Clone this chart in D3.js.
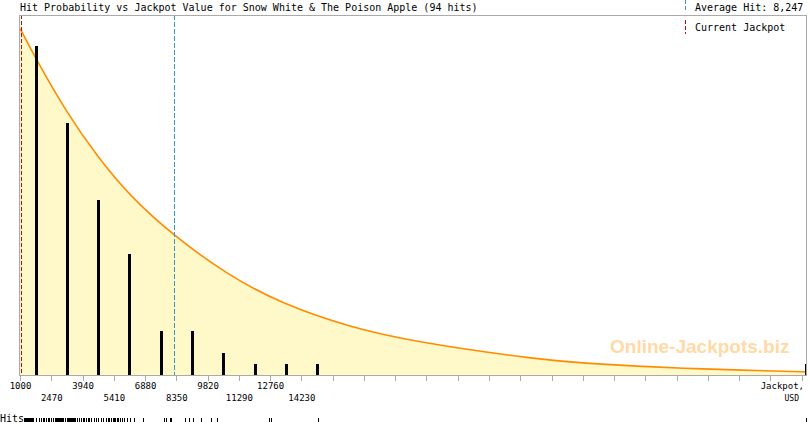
<!DOCTYPE html>
<html>
<head>
<meta charset="utf-8">
<script src="https://cdn.jsdelivr.net/npm/d3@7"></script>
<style>
  body { margin: 0; background: #fff; }
  text { font-family: 'DejaVu Sans Mono', monospace; fill: #000; }
</style>
</head>
<body>
<svg id="chart" width="810" height="425"></svg>
<script>
const title = 'Hit Probability vs Jackpot Value for Snow White & The Poison Apple (94 hits)'
const averageHit = 8247
const currentJackpot = 1060

// histogram bins, 1470 USD wide
const binStep = 1470
const binStarts = [1000, 2470, 3940, 5410, 6880, 8350, 9820, 11290, 12760, 14230]
const binCounts = [30, 23, 16, 11, 4, 4, 2, 1, 1, 1]
const overflowCount = 1 // one hit far beyond the axis end

const labeledTicks = [1000, 2470, 3940, 5410, 6880, 8350, 9820, 11290, 12760, 14230]

// probability curve, in the same units as the bars
const curveUsd = [1000, 1700, 3200, 4680, 6170, 8280, 10790, 13300, 16430, 19560, 25520, 27790, 30040, 32110, 34740, 36480, 38000]
const curveLevel = [31.6, 29.0, 23.9, 19.8, 16.3, 12.6, 9.1, 6.5, 4.4, 3.0, 1.37, 1.05, 0.80, 0.62, 0.45, 0.36, 0.29]

// individual hits for the rug strip
const hits = [
  1165, 1190, 1210, 1235, 1260, 1280, 1305, 1330, 1355, 1375, 1400, 1425, 1445, 1470, 1495,
  1515, 1540, 1565, 1590, 1610, 1730, 1870, 2010, 2060, 2105, 2200, 2245, 2295, 2365, 2435,
  2550, 2645, 2690, 2740, 2785, 2835, 2880, 2925, 2975, 3020, 3115, 3210, 3255, 3305, 3350,
  3395, 3445, 3490, 3540, 3585, 3680, 3775, 3865,
  3960, 4010, 4100, 4195, 4265, 4360, 4480, 4570, 4690, 4785, 4880, 5040, 5135, 5205, 5275, 5350,
  5420, 5480, 5560, 5620, 5685, 5810, 5890, 6030, 6170, 6370, 6795,
  7780, 7860, 8065, 8110,
  8755, 8955, 9130, 9530,
  9975, 10260,
  12725, 12820, 15005,
  386000
]

const svg = d3.select('#chart')
const plotLeft = 20
const plotRight = 807
const plotTop = 15
const plotBottom = 375

const x = d3.scaleLinear().domain([1000, 38000]).range([plotLeft, plotRight])
const y = d3.scaleLinear().domain([0, 32.83]).range([plotBottom, plotTop])
const xEdge = v => Math.min(x(v), plotRight - 1.5)

svg.append('defs').append('clipPath').attr('id', 'plot-clip')
  .append('rect')
  .attr('x', plotLeft).attr('y', plotTop)
  .attr('width', plotRight - plotLeft).attr('height', plotBottom - plotTop)

const plot = svg.append('g').attr('clip-path', 'url(#plot-clip)')

// area under the curve
const curvePts = curveUsd.map((v, i) => [v, curveLevel[i]])
plot.append('path')
  .datum(curvePts)
  .attr('d', d3.area().x(d => x(d[0])).y0(y(0)).y1(d => y(d[1])).curve(d3.curveBasis))
  .style('fill', '#fff8c8')

// watermark
svg.append('text')
  .attr('x', 610).attr('y', 353)
  .style('font-family', "'Liberation Sans', Arial, sans-serif")
  .style('font-weight', 'bold')
  .style('font-size', '19px')
  .style('fill', '#ffd9a6')
  .text('Online-Jackpots.biz')

plot.append('path')
  .datum(curvePts)
  .attr('d', d3.line().x(d => x(d[0])).y(d => y(d[1])).curve(d3.curveBasis))
  .style('fill', 'none')
  .style('stroke', '#ff8c00')
  .style('stroke-width', 1.6)

// bars
const bars = binStarts.map((s, i) => ({ center: s + binStep / 2, count: binCounts[i] }))
bars.push({ center: x.domain()[1], count: overflowCount })

plot.selectAll('.bar')
  .data(bars)
  .enter()
  .append('rect')
  .classed('bar', true)
  .attr('x', d => Math.round(xEdge(d.center) - 1))
  .attr('y', d => y(d.count))
  .attr('width', 3)
  .attr('height', d => y(0) - y(d.count))
  .style('fill', '#000')
  .attr('shape-rendering', 'crispEdges')

// average hit and current jackpot markers
plot.append('line')
  .attr('x1', Math.round(x(averageHit)) + 0.5).attr('x2', Math.round(x(averageHit)) + 0.5)
  .attr('y1', plotTop).attr('y2', plotBottom)
  .style('stroke', '#3399cc')
  .style('stroke-dasharray', '5,2')
  .attr('shape-rendering', 'crispEdges')

plot.append('line')
  .attr('x1', Math.round(x(currentJackpot)) + 0.5).attr('x2', Math.round(x(currentJackpot)) + 0.5)
  .attr('y1', plotTop).attr('y2', plotBottom)
  .style('stroke', '#dd0000')
  .style('stroke-dasharray', '4,2')
  .attr('shape-rendering', 'crispEdges')

// frame
svg.append('rect')
  .attr('x', plotLeft - 0.5).attr('y', plotTop + 0.5)
  .attr('width', plotRight - plotLeft).attr('height', plotBottom - plotTop)
  .style('fill', 'none')
  .style('stroke', '#aaa')
  .attr('shape-rendering', 'crispEdges')

// x axis
const allTicks = d3.range(1000, 38000, binStep)
const axis = d3.axisBottom(x)
  .tickValues(allTicks)
  .tickSize(5)
  .tickSizeOuter(0)
  .tickFormat(v => labeledTicks.includes(v) ? String(v) : '')

const axisG = svg.append('g')
  .attr('transform', `translate(0,${plotBottom + 0.5})`)
  .call(axis)

axisG.select('.domain').remove()
axisG.selectAll('.tick line').style('stroke', '#aaa').attr('shape-rendering', 'crispEdges')
axisG.selectAll('.tick text')
  .style('font-family', "'DejaVu Sans Mono', monospace")
  .style('font-size', '9px')
  .style('fill', '#000')
  .attr('y', (d, i) => i % 2 === 0 ? 7 : 19.5)

svg.append('text')
  .attr('x', 804).attr('y', 389)
  .attr('text-anchor', 'end')
  .style('font-size', '9px')
  .text('Jackpot,')

svg.append('text')
  .attr('x', 799).attr('y', 401)
  .attr('text-anchor', 'end')
  .style('font-size', '8px')
  .text('USD')

// title and legend
svg.append('text')
  .attr('x', 20).attr('y', 10.5)
  .style('font-size', '10px')
  .text(title)

svg.append('line')
  .attr('x1', 685.5).attr('x2', 685.5)
  .attr('y1', 0).attr('y2', 12)
  .style('stroke', '#3399cc')
  .style('stroke-dasharray', '4,2')
  .attr('shape-rendering', 'crispEdges')

svg.append('text')
  .attr('x', 695).attr('y', 10.5)
  .style('font-size', '10px')
  .text('Average Hit: ' + d3.format(',')(averageHit))

svg.append('line')
  .attr('x1', 685.5).attr('x2', 685.5)
  .attr('y1', 20).attr('y2', 34)
  .style('stroke', '#dd0000')
  .style('stroke-dasharray', '4,2')
  .attr('shape-rendering', 'crispEdges')

svg.append('text')
  .attr('x', 695).attr('y', 31)
  .style('font-size', '10px')
  .text('Current Jackpot')

// rug of individual hits
svg.append('text')
  .attr('x', 0).attr('y', 422)
  .style('font-size', '10px')
  .text('Hits')

svg.selectAll('.rug')
  .data(hits)
  .enter()
  .append('line')
  .classed('rug', true)
  .attr('x1', d => Math.round(xEdge(d)) + 0.5)
  .attr('x2', d => Math.round(xEdge(d)) + 0.5)
  .attr('y1', 418)
  .attr('y2', 422)
  .style('stroke', '#000')
  .attr('shape-rendering', 'crispEdges')
</script>
</body>
</html>
